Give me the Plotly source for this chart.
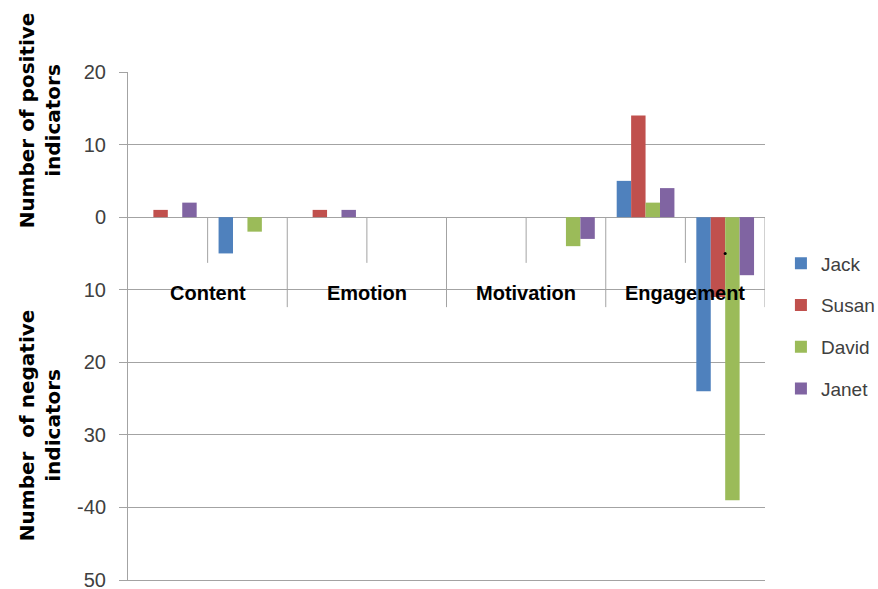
import plotly.graph_objects as go

# Categories and people
categories = ["Content", "Emotion", "Motivation", "Engagement"]
people = ["Jack", "Susan", "David", "Janet"]
colors = ["#4F81BD", "#C0504D", "#9BBB59", "#8064A2"]

# Number of positive indicators per category
jack_pos = [0, 0, 0, 5]
susan_pos = [1, 1, 0, 14]
david_pos = [0, 0, 0, 2]
janet_pos = [2, 1, 0, 4]

# Number of negative indicators per category (drawn below zero)
jack_neg = [-5, 0, 0, -24]
susan_neg = [0, 0, 0, -11]
david_neg = [-2, 0, -4, -39]
janet_neg = [0, 0, -3, -8]

# Y axis ticks (negative side shown without sign)
tick_values = [20, 10, 0, -10, -20, -30, -40, -50]
tick_labels = ["20", "10", "0", "10", "20", "30", "-40", "50"]

# Small stray dot on the engagement group
dot_x = [7]
dot_y = [-5]

pos_series = [jack_pos, susan_pos, david_pos, janet_pos]
neg_series = [jack_neg, susan_neg, david_neg, janet_neg]

GRID = "#a3a3a3"
n_slots = 2 * len(categories)
slots = list(range(n_slots))

fig = go.Figure()
for name, color, pos, neg in zip(people, colors, pos_series, neg_series):
    vals = []
    for p, n in zip(pos, neg):
        vals.append(p if p != 0 else None)
        vals.append(n if n != 0 else None)
    fig.add_trace(go.Bar(
        x=slots, y=vals, name=name, legendgroup=name,
        marker=dict(color=color, line=dict(width=0)),
    ))

fig.add_trace(go.Scatter(
    x=dot_x, y=dot_y, mode="markers", showlegend=False,
    marker=dict(color="black", size=3), hoverinfo="skip",
))

# Category axis divider lines hanging below zero
shapes = []
for k in range(n_slots):
    xb = k + 0.5
    outer = (k % 2 == 1)
    shapes.append(dict(
        type="line", xref="x", yref="y", x0=xb, x1=xb,
        y0=0, y1=-12.4 if outer else -6.3,
        line=dict(color=GRID, width=1), layer="below",
    ))

annotations = []
for i, c in enumerate(categories):
    annotations.append(dict(
        x=2 * i + 0.5, y=-10.5, xref="x", yref="y", text=c, showarrow=False,
        font=dict(family="Liberation Sans", size=20, color="black", weight="bold"),
        xanchor="center", yanchor="middle",
    ))

title_font = dict(family="DejaVu Sans", size=20, color="black", weight="bold")
annotations.append(dict(
    x=-0.139, y=13.4, xref="paper", yref="y", text="Number of positive<br>indicators",
    textangle=-90, showarrow=False, font=title_font, xanchor="center", yanchor="middle",
))
annotations.append(dict(
    x=-0.139, y=-28.6, xref="paper", yref="y", text="Number  of negative<br>indicators",
    textangle=-90, showarrow=False, font=title_font, xanchor="center", yanchor="middle",
))

fig.update_layout(
    width=878, height=589,
    margin=dict(l=128, r=113, t=72, b=9, autoexpand=False),
    paper_bgcolor="white", plot_bgcolor="white",
    barmode="group", bargap=0.275, bargroupgap=0,
    shapes=shapes, annotations=annotations,
    showlegend=True,
    legend=dict(
        x=1.025, y=0.5, xanchor="left", yanchor="middle",
        font=dict(family="Liberation Sans", size=19, color="#404040"),
        tracegroupgap=14, bgcolor="rgba(0,0,0,0)",
    ),
    xaxis=dict(
        range=[-0.5, n_slots - 0.5], showticklabels=False, showgrid=False,
        zeroline=False, showline=True, linecolor=GRID, linewidth=1, ticks="",
    ),
    yaxis=dict(
        range=[-50, 20], tickvals=tick_values, ticktext=tick_labels,
        showgrid=True, gridcolor=GRID, gridwidth=1, zeroline=False,
        showline=True, linecolor=GRID, linewidth=1,
        ticks="outside", ticklen=8, tickcolor=GRID, ticklabelstandoff=9,
        ticklabeloverflow="allow",
        tickfont=dict(family="Liberation Sans", size=20, color="#404040"),
    ),
)

fig.write_html("out.html")
